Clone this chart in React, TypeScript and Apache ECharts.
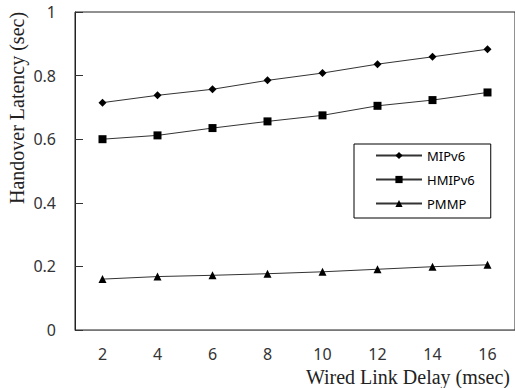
import React, { useEffect, useRef } from "react";
import * as echarts from "echarts";

const categories = ["2", "4", "6", "8", "10", "12", "14", "16"];
const mipv6 = [0.715, 0.738, 0.757, 0.785, 0.808, 0.836, 0.859, 0.883];
const hmipv6 = [0.6, 0.612, 0.635, 0.656, 0.675, 0.705, 0.723, 0.747];
const pmmp = [0.16, 0.168, 0.172, 0.177, 0.183, 0.191, 0.199, 0.205];
const yTitle = "Handover Latency (sec)";
const xTitle = "Wired Link Delay (msec)";

export default function App() {
  const ref = useRef<HTMLDivElement>(null);
  useEffect(() => {
    const chart = echarts.init(ref.current!, null, { renderer: "svg" });
    const lineColor = "#222";
    const mk = (name: string, data: number[], symbol: string, size: number) => ({
      name,
      type: "line",
      data,
      symbol,
      symbolSize: size,
      lineStyle: { color: "#333", width: 1 },
      itemStyle: { color: "#000" },
      color: "#000",
    });
    chart.setOption({
      animation: false,
      backgroundColor: "#fff",
      grid: {
        left: 75,
        top: 12,
        width: 443,
        height: 318,
        show: true,
        borderColor: lineColor,
        borderWidth: 1,
      },
      legend: {
        orient: "vertical",
        left: 354,
        top: 144,
        width: 135,
        itemWidth: 46,
        itemHeight: 9,
        itemGap: 11,
        padding: [5, 16, 8, 21],
        borderColor: "#000",
        borderWidth: 1,
        textStyle: { fontFamily: "Noto Sans", fontSize: 13, color: "#000" },
        data: ["MIPv6", "HMIPv6", "PMMP"],
      },
      xAxis: {
        type: "category",
        data: categories,
        boundaryGap: true,
        axisLine: { lineStyle: { color: "#777", width: 1 } },
        axisTick: { inside: true, length: 6, lineStyle: { color: "#333" } },
        axisLabel: { fontFamily: "Noto Sans", fontSize: 16, color: "#333", margin: 16 },
        splitLine: { show: false },
      },
      yAxis: {
        type: "value",
        min: 0,
        max: 1,
        interval: 0.2,
        axisLine: { show: true, lineStyle: { color: lineColor, width: 1 } },
        axisTick: { show: true, inside: true, length: 8, lineStyle: { color: "#333" } },
        axisLabel: { fontFamily: "Noto Sans", fontSize: 16, color: "#333", margin: 19 },
        splitLine: { show: false },
      },
      graphic: [
        {
          type: "text",
          x: 17,
          y: 108,
          rotation: Math.PI / 2,
          style: {
            text: yTitle,
            fontFamily: "Liberation Serif",
            fontSize: 20,
            fill: "#222",
            align: "center",
            verticalAlign: "middle",
          },
        },
        {
          type: "text",
          x: 510,
          y: 377,
          style: {
            text: xTitle,
            fontFamily: "Liberation Serif",
            fontSize: 20,
            fill: "#222",
            align: "right",
            verticalAlign: "middle",
          },
        },
      ],
      series: [
        mk("MIPv6", mipv6, "diamond", 8),
        mk("HMIPv6", hmipv6, "rect", 8),
        mk("PMMP", pmmp, "triangle", 8),
      ],
    });
    return () => chart.dispose();
  }, []);
  return <div ref={ref} style={{ width: 515, height: 388, position: "absolute", left: 0, top: 0 }} />;
}
